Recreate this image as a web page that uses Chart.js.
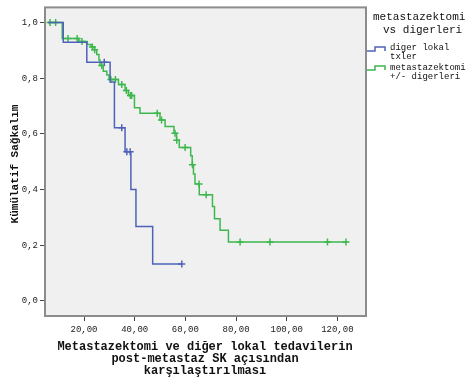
<!DOCTYPE html>
<html>
<head>
<meta charset="utf-8">
<script src="https://cdn.jsdelivr.net/npm/chart.js@4/dist/chart.umd.min.js"></script>
<style>
  html, body { margin: 0; padding: 0; background: #fff; }
  canvas { display: block; }
</style>
</head>
<body>
<canvas id="kmChart" width="466" height="378"></canvas>
<script>
// Kaplan-Meier verileri (zaman, kümülatif sağkalım)
const blueTimes = [5.8, 11.8, 21.1, 30.3, 32.0, 36.2, 38.5, 40.5, 47.1, 58.6];
const blueSurv  = [1.0, 0.929, 0.857, 0.786, 0.622, 0.536, 0.400, 0.267, 0.133, 0.133];
const blueCensorTimes = [28.0, 34.9, 36.9, 38.2, 58.6];

const greenTimes = [5.8, 11.4, 18.0, 21.3, 22.8, 24.1, 25.0, 25.9, 26.3, 27.6, 29.0, 29.9,
  33.6, 36.2, 37.5, 39.9, 42.1, 50.0, 52.0, 55.5, 56.5, 57.6, 62.1, 62.7, 63.2, 63.8,
  65.5, 70.7, 71.5, 73.7, 77.0, 124.0];
const greenSurv = [1.0, 0.942, 0.932, 0.921, 0.912, 0.902, 0.885, 0.865, 0.845, 0.825, 0.811, 0.795,
  0.777, 0.756, 0.738, 0.694, 0.674, 0.650, 0.626, 0.602, 0.577, 0.551, 0.521, 0.489, 0.456, 0.420,
  0.381, 0.339, 0.295, 0.254, 0.212, 0.212];
const greenCensorTimes = [6.6, 8.8, 13.7, 17.3, 19.2, 23.3, 24.2, 27.0, 30.6, 32.4, 34.9, 36.7,
  38.3, 38.8, 48.9, 50.6, 55.9, 56.6, 59.9, 62.8, 65.4, 68.2, 81.6, 93.4, 116.1, 123.4];

const xTicks = [20, 40, 60, 80, 100, 120];
const yTicks = [0, 0.2, 0.4, 0.6, 0.8, 1.0];

const blueColor = 'rgb(78, 98, 186)';
const greenColor = 'rgb(62, 184, 78)';
const monoFont = '"Liberation Mono", "Courier New", monospace';

function curve(times, surv) {
  return times.map((t, i) => ({ x: t, y: surv[i] }));
}

// sansürlü gözlemler eğrinin o andaki değerine oturur
function censorPoints(censors, times, surv) {
  return censors.map(t => {
    let s = surv[0];
    for (let i = 0; i < times.length; i++) {
      if (times[i] <= t) s = surv[i];
    }
    return { x: t, y: s };
  });
}

// Grafik alanı arka planı ve çerçeve
const framePlugin = {
  id: 'frame',
  beforeDraw(chart) {
    const { ctx, chartArea: a } = chart;
    ctx.save();
    ctx.fillStyle = '#f0f0f0';
    ctx.fillRect(a.left, a.top, a.right - a.left, a.bottom - a.top);
    ctx.restore();
  },
  afterDraw(chart) {
    const { ctx, chartArea: a } = chart;
    ctx.save();
    ctx.strokeStyle = '#8c8c8c';
    ctx.lineWidth = 2;
    ctx.strokeRect(a.left, a.top, a.right - a.left, a.bottom - a.top);

    // eksen başlıkları
    ctx.fillStyle = '#111';
    ctx.font = 'bold 12px ' + monoFont;
    ctx.textAlign = 'center';
    ctx.textBaseline = 'middle';
    ctx.fillText('Metastazektomi ve diğer lokal tedavilerin', 205, 347);
    ctx.fillText('post-metastaz SK açısından', 205, 359);
    ctx.fillText('karşılaştırılması', 205, 371);

    ctx.save();
    ctx.translate(15, 164);
    ctx.rotate(-Math.PI / 2);
    ctx.font = 'bold 11px ' + monoFont;
    ctx.fillText('Kümülatif Sağkalım', 0, 0);
    ctx.restore();

    // lejant
    ctx.textAlign = 'left';
    ctx.font = '11px ' + monoFont;
    ctx.fillText('metastazektomi', 373, 17);
    ctx.fillText('vs digerleri', 383, 30);

    ctx.lineWidth = 1.5;
    ctx.strokeStyle = blueColor;
    ctx.beginPath();
    ctx.moveTo(367, 51); ctx.lineTo(375, 51); ctx.lineTo(375, 47);
    ctx.lineTo(385, 47); ctx.lineTo(385, 51);
    ctx.stroke();
    ctx.strokeStyle = greenColor;
    ctx.beginPath();
    ctx.moveTo(367, 70); ctx.lineTo(375, 70); ctx.lineTo(375, 66);
    ctx.lineTo(385, 66); ctx.lineTo(385, 70);
    ctx.stroke();

    ctx.font = '9px ' + monoFont;
    ctx.fillText('diger lokal', 390, 48);
    ctx.fillText('txler', 390, 57);
    ctx.fillText('metastazektomi', 390, 68);
    ctx.fillText('+/- digerleri', 390, 77);
    ctx.restore();
  }
};

new Chart(document.getElementById('kmChart'), {
  type: 'line',
  data: {
    datasets: [
      {
        data: curve(blueTimes, blueSurv),
        borderColor: blueColor,
        borderWidth: 1.5,
        stepped: true,
        pointRadius: 0,
        fill: false
      },
      {
        data: curve(greenTimes, greenSurv),
        borderColor: greenColor,
        borderWidth: 1.5,
        stepped: true,
        pointRadius: 0,
        fill: false
      },
      {
        data: censorPoints(blueCensorTimes, blueTimes, blueSurv),
        showLine: false,
        pointStyle: 'cross',
        pointRadius: 3.5,
        pointBorderWidth: 1.5,
        borderColor: blueColor
      },
      {
        data: censorPoints(greenCensorTimes, greenTimes, greenSurv),
        showLine: false,
        pointStyle: 'cross',
        pointRadius: 3.5,
        pointBorderWidth: 1.5,
        borderColor: greenColor
      }
    ]
  },
  options: {
    responsive: false,
    animation: false,
    devicePixelRatio: 1,
    layout: { padding: { top: 6, right: 100, left: 0, bottom: 0 } },
    plugins: { legend: { display: false }, tooltip: { enabled: false } },
    scales: {
      x: {
        type: 'linear',
        min: 4.6,
        max: 131.3,
        afterFit: s => { s.height = 62; },
        afterBuildTicks: s => { s.ticks = xTicks.map(v => ({ value: v })); },
        border: { display: false },
        grid: { drawOnChartArea: false, drawTicks: true, tickLength: 5, color: '#444' },
        ticks: {
          autoSkip: false,
          maxRotation: 0,
          padding: 3,
          color: '#222',
          font: { family: monoFont, size: 9 },
          callback: v => v.toFixed(2).replace('.', ',')
        }
      },
      y: {
        min: -0.054,
        max: 1.054,
        afterFit: s => { s.width = 45; },
        afterBuildTicks: s => { s.ticks = yTicks.map(v => ({ value: v })); },
        border: { display: false },
        grid: { drawOnChartArea: false, drawTicks: true, tickLength: 5, color: '#444' },
        ticks: {
          padding: 2,
          color: '#222',
          font: { family: monoFont, size: 9 },
          callback: v => v.toFixed(1).replace('.', ',')
        }
      }
    }
  },
  plugins: [framePlugin]
});
</script>
</body>
</html>
